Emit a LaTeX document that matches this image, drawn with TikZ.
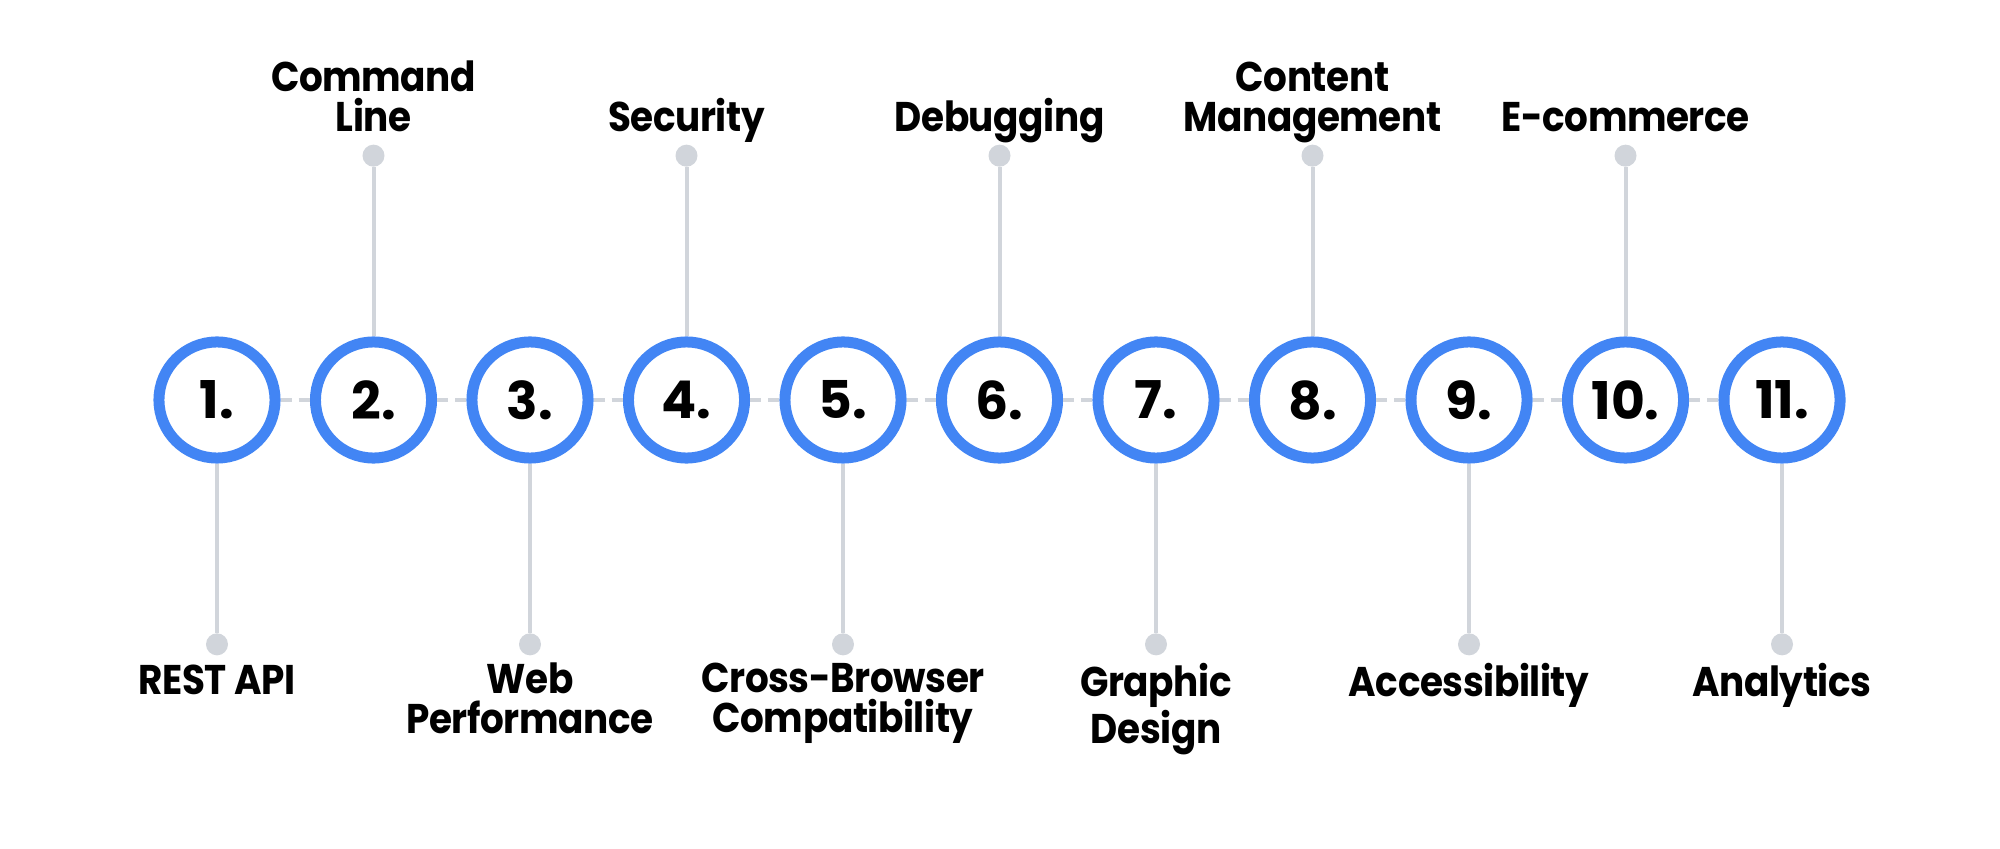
\documentclass[tikz,border=0pt]{standalone}
\usepackage{fontspec}
\setmainfont{Poppins}
\newfontfamily\lblfont{Poppins}[FakeStretch=0.9, LetterSpace=-1]
\usepackage{xcolor}
\usetikzlibrary{positioning}
\definecolor{ringblue}{RGB}{66,133,244}
\definecolor{stemgrey}{RGB}{209,213,219}
\newcommand{\capstrut}{\rule{0pt}{9pt}}

\begin{document}
\begin{tikzpicture}[
    x=0.01cm, y=0.01cm,
    numcircle/.style={circle, draw=ringblue, line width=0.11cm, fill=white, minimum size=1.16cm, inner sep=0pt, font=\fontsize{14.8}{15}\selectfont\bfseries},
    dot/.style={circle, fill=stemgrey, minimum size=0.22cm, inner sep=0pt},
    stem/.style={draw=stemgrey, line width=0.04cm},
    link/.style={draw=stemgrey, line width=0.04cm, dash pattern=on 0.11cm off 0.07cm},
    toplbl/.style={font=\lblfont\fontsize{11.8}{11.4}\selectfont\bfseries, align=center, inner sep=0pt, execute at end node=\strut},
    botlbl/.style={font=\lblfont\fontsize{11.8}{11.4}\selectfont\bfseries, align=center, inner sep=0pt, execute at begin node=\capstrut},
]
    \useasboundingbox (0,0) rectangle (2000,848);

    % Numbered circles
    \node[numcircle] (n1) at (217, 448) {1.};
    \node[numcircle] (n2) at (373.5, 448) {2.};
    \node[numcircle] (n3) at (530, 448) {3.};
    \node[numcircle] (n4) at (686.5, 448) {4.};
    \node[numcircle] (n5) at (843, 448) {5.};
    \node[numcircle] (n6) at (999.5, 448) {6.};
    \node[numcircle] (n7) at (1156, 448) {7.};
    \node[numcircle] (n8) at (1312.5, 448) {8.};
    \node[numcircle] (n9) at (1469, 448) {9.};
    \node[numcircle] (n10) at (1625.5, 448) {10.};
    \node[numcircle] (n11) at (1782, 448) {11.};

    % Dashed links between circles
    \draw[link] (n1) -- (n2);
    \draw[link] (n2) -- (n3);
    \draw[link] (n3) -- (n4);
    \draw[link] (n4) -- (n5);
    \draw[link] (n5) -- (n6);
    \draw[link] (n6) -- (n7);
    \draw[link] (n7) -- (n8);
    \draw[link] (n8) -- (n9);
    \draw[link] (n9) -- (n10);
    \draw[link] (n10) -- (n11);

    % Upper stems
    \node[dot, above=1.69cm of n2] (d2) {};
    \node[dot, above=1.69cm of n4] (d4) {};
    \node[dot, above=1.69cm of n6] (d6) {};
    \node[dot, above=1.69cm of n8] (d8) {};
    \node[dot, above=1.69cm of n10] (d10) {};
    \draw[stem] (n2) -- (d2);
    \draw[stem] (n4) -- (d4);
    \draw[stem] (n6) -- (d6);
    \draw[stem] (n8) -- (d8);
    \draw[stem] (n10) -- (d10);

    % Lower stems
    \node[dot, below=1.69cm of n1] (d1) {};
    \node[dot, below=1.69cm of n3] (d3) {};
    \node[dot, below=1.69cm of n5] (d5) {};
    \node[dot, below=1.69cm of n7] (d7) {};
    \node[dot, below=1.69cm of n9] (d9) {};
    \node[dot, below=1.69cm of n11] (d11) {};
    \draw[stem] (n1) -- (d1);
    \draw[stem] (n3) -- (d3);
    \draw[stem] (n5) -- (d5);
    \draw[stem] (n7) -- (d7);
    \draw[stem] (n9) -- (d9);
    \draw[stem] (n11) -- (d11);

    % Upper labels
    \node[toplbl, above=0cm of d2] (t2) {Command\\Line};
    \node[toplbl, above=0cm of d4] (t4) {Security};
    \node[toplbl, above=0cm of d6] (t6) {Debugging};
    \node[toplbl, above=0cm of d8] (t8) {Content\\Management};
    \node[toplbl, above=0cm of d10] (t10) {E-commerce};

    % Lower labels
    \node[botlbl, below=0.06cm of d1] (t1) {REST API};
    \node[botlbl, below=0.06cm of d3] (t3) {Web\\Performance};
    \node[botlbl, below=0.06cm of d5] (t5) {Cross-Browser\\Compatibility};
    \node[botlbl, below=0.06cm of d7] (t7) {Graphic\\Design};
    \node[botlbl, below=0.06cm of d9] (t9) {Accessibility};
    \node[botlbl, below=0.06cm of d11] (t11) {Analytics};
\end{tikzpicture}
\end{document}
